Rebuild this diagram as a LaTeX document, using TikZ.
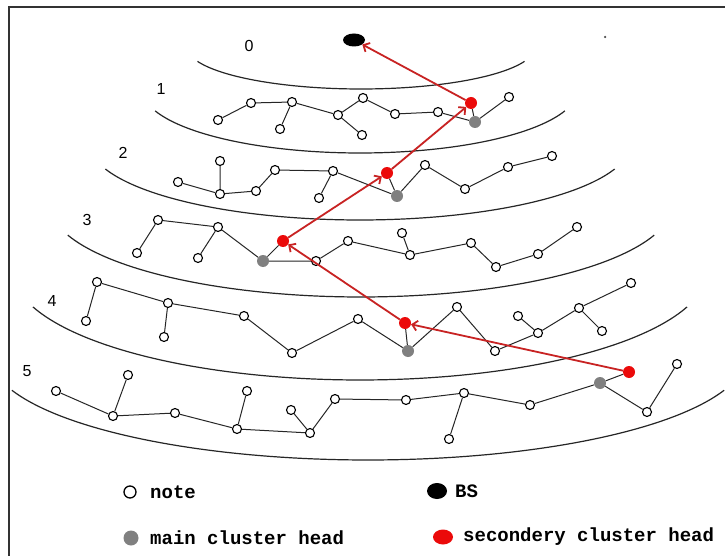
\documentclass[tikz,border=0pt]{standalone}
\usepackage{fontspec}
\setmainfont{Liberation Sans}
\newfontfamily\legfont{Liberation Mono}
\usetikzlibrary{shapes.geometric,arrows.meta}
\definecolor{redline}{RGB}{200,35,35}
\definecolor{chred}{RGB}{235,10,10}
\definecolor{chgray}{RGB}{128,128,128}
\begin{document}
\begin{tikzpicture}[x=1pt,y=-1pt,
 note/.style={circle,draw=black,line width=1.1pt,fill=white,inner sep=0pt,minimum size=9pt},
 mainch/.style={circle,fill=chgray,inner sep=0pt,minimum size=12pt},
 secch/.style={circle,fill=chred,inner sep=0pt,minimum size=12pt},
 bsnode/.style={ellipse,fill=black,inner sep=0pt,minimum width=22pt,minimum height=13pt},
 link/.style={line width=1pt,black!85},
 levelarc/.style={line width=1.2pt,black!85},
 hop/.style={line width=1.8pt,redline,-{Straight Barb[length=5pt,width=10pt]}},
 lvl/.style={font=\fontsize{16}{18}\selectfont,inner sep=0pt},
 leg/.style={font=\legfont\bfseries\fontsize{19}{21}\selectfont,anchor=west,inner sep=0pt}
]
\fill[white] (0,0) rectangle (725,556);
\useasboundingbox (0,0) rectangle (725,556);
\draw[line width=1.5pt,black!80] (9,556) -- (9,7) -- (725,7);

% level boundaries
\draw[levelarc] plot[domain=160:20,samples=80] ({361+174*cos(\x)},{47+42*sin(\x)});
\draw[levelarc] plot[domain=160:20,samples=80] ({360+218*cos(\x)},{89+64*sin(\x)});
\draw[levelarc] plot[domain=160:20,samples=80] ({360+271*cos(\x)},{142.5+77.5*sin(\x)});
\draw[levelarc] plot[domain=160:20,samples=80] ({361+312*cos(\x)},{203+94*sin(\x)});
\draw[levelarc] plot[domain=160:20,samples=80] ({360+348*cos(\x)},{269+111*sin(\x)});
\draw[levelarc] plot[domain=160:20,samples=80] ({368+379*cos(\x)},{354+106*sin(\x)});

% level numbers
\node[lvl] (l0) at (249,46) {0};
\node[lvl] (l1) at (161,89) {1};
\node[lvl] (l2) at (123,153) {2};
\node[lvl] (l3) at (87,220) {3};
\node[lvl] (l4) at (52,301) {4};
\node[lvl] (l5) at (27,371) {5};

% base station and stray dot
\node[bsnode] (bs) at (354,40) {};
\node[circle,fill=black!70,inner sep=0pt,minimum size=2.5pt] (dot) at (605,37) {};

% level 1
\node[note] (n11) at (218,120) {};
\node[note] (n12) at (251,103) {};
\node[note] (n13) at (292,102) {};
\node[note] (n14) at (280,129) {};
\node[note] (n15) at (338,115) {};
\node[note] (n16) at (363,98) {};
\node[note] (n17) at (362,135) {};
\node[note] (n18) at (395,114) {};
\node[note] (n19) at (438,112) {};
\node[mainch] (g1) at (475,122) {};
\node[secch] (r1) at (471,103) {};
\node[note] (n110) at (509,97) {};
\draw[link] (n11)--(n12) (n12)--(n13) (n13)--(n14) (n13)--(n15) (n15)--(n16) (n15)--(n17)
 (n16)--(n18) (n18)--(n19) (n19)--(g1) (g1)--(r1) (g1)--(n110);

% level 2
\node[note] (n21) at (178,182) {};
\node[note] (n22) at (220,161) {};
\node[note] (n23) at (220,194) {};
\node[note] (n24) at (256,191) {};
\node[note] (n25) at (275,170) {};
\node[note] (n26) at (333,171) {};
\node[note] (n27) at (319,198) {};
\node[mainch] (g2) at (397,196) {};
\node[secch] (r2) at (387,173) {};
\node[note] (n28) at (425,165) {};
\node[note] (n29) at (465,189) {};
\node[note] (n210) at (508,167) {};
\node[note] (n211) at (552,156) {};
\draw[link] (n21)--(n23) (n22)--(n23) (n23)--(n24) (n24)--(n25) (n25)--(n26) (n26)--(n27)
 (n26)--(g2) (g2)--(r2) (g2)--(n28) (n28)--(n29) (n29)--(n210) (n210)--(n211);

% level 3
\node[note] (n31) at (158,220) {};
\node[note] (n32) at (137,253) {};
\node[note] (n33) at (218,227) {};
\node[note] (n34) at (198,258) {};
\node[mainch] (g3) at (263,261) {};
\node[secch] (r3) at (283,241) {};
\node[note] (n35) at (316,261) {};
\node[note] (n36) at (348,241) {};
\node[note] (n37) at (402,233) {};
\node[note] (n38) at (410,255) {};
\node[note] (n39) at (471,243) {};
\node[note] (n310) at (496,267) {};
\node[note] (n311) at (538,254) {};
\node[note] (n312) at (577,227) {};
\draw[link] (n31)--(n32) (n31)--(n33) (n33)--(n34) (n33)--(g3) (g3)--(r3) (g3)--(n35)
 (n35)--(n36) (n36)--(n38) (n37)--(n38) (n38)--(n39) (n39)--(n310) (n310)--(n311) (n311)--(n312);

% level 4
\node[note] (n41) at (97,282) {};
\node[note] (n42) at (86,321) {};
\node[note] (n43) at (168,303) {};
\node[note] (n44) at (164,337) {};
\node[note] (n45) at (244,316) {};
\node[note] (n46) at (292,353) {};
\node[note] (n47) at (358,319) {};
\node[mainch] (g4) at (408,351) {};
\node[secch] (r4) at (405,323) {};
\node[note] (n48) at (457,307) {};
\node[note] (n49) at (495,351) {};
\node[note] (n410) at (518,316) {};
\node[note] (n411) at (538,333) {};
\node[note] (n412) at (579,308) {};
\node[note] (n413) at (602,331) {};
\node[note] (n414) at (631,283) {};
\draw[link] (n41)--(n42) (n41)--(n43) (n43)--(n44) (n43)--(n45) (n45)--(n46) (n46)--(n47)
 (n47)--(g4) (g4)--(r4) (g4)--(n48) (n48)--(n49) (n49)--(n411) (n410)--(n411) (n411)--(n412)
 (n412)--(n413) (n412)--(n414);

% level 5
\node[note] (n51) at (56,391) {};
\node[note] (n52) at (128,375) {};
\node[note] (n53) at (113,416) {};
\node[note] (n54) at (175,413) {};
\node[note] (n55) at (247,391) {};
\node[note] (n56) at (237,429) {};
\node[note] (n57) at (291,410) {};
\node[note] (n58) at (310,433) {};
\node[note] (n59) at (335,399) {};
\node[note] (n510) at (406,400) {};
\node[note] (n511) at (464,393) {};
\node[note] (n512) at (449,439) {};
\node[note] (n513) at (530,405) {};
\node[mainch] (g5) at (600,383) {};
\node[secch] (r5) at (629,372) {};
\node[note] (n514) at (647,412) {};
\node[note] (n515) at (677,364) {};
\draw[link] (n51)--(n53) (n52)--(n53) (n53)--(n54) (n54)--(n56) (n55)--(n56) (n56)--(n58)
 (n57)--(n58) (n58)--(n59) (n59)--(n510) (n510)--(n511) (n511)--(n512) (n511)--(n513)
 (n513)--(g5) (g5)--(r5) (g5)--(n514) (n514)--(n515);

% routing path
\draw[hop] (r5) -- (r4);
\draw[hop] (r4) -- (r3);
\draw[hop] (r3) -- (r2);
\draw[hop] (r2) -- (r1);
\draw[hop] (r1) -- (bs);

% legend
\node[note,minimum size=12pt,line width=1.3pt] (kn) at (130,492) {};
\node[leg] (tn) at (150,492) {note};
\node[bsnode,minimum width=20pt,minimum height=16pt] (kb) at (437,491) {};
\node[leg] (tb) at (455,491) {BS};
\node[mainch,minimum size=15pt] (kg) at (131,538) {};
\node[leg] (tg) at (150,538) {main cluster head};
\node[secch,minimum width=20pt,minimum height=15pt,ellipse] (kr) at (443,537) {};
\node[leg] (tr) at (463,537) {secondery cluster head};
\end{tikzpicture}
\end{document}
